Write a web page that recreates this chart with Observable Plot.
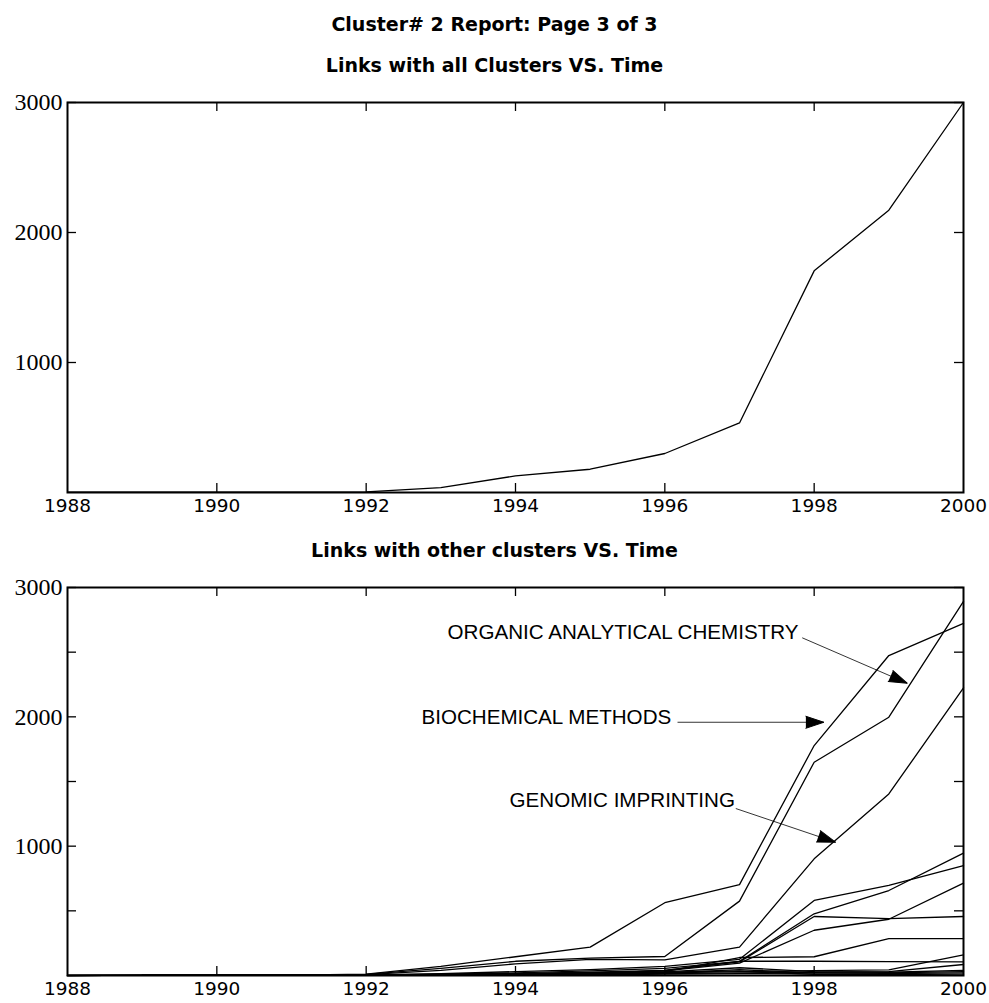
<!DOCTYPE html>
<html><head><meta charset="utf-8">
<script src="https://cdn.jsdelivr.net/npm/d3@7"></script>
<script src="https://cdn.jsdelivr.net/npm/@observablehq/plot@0.6"></script>
<style>
html,body{margin:0;padding:0;background:#fff;overflow:hidden}
#page{position:relative;width:989px;height:1003px;background:#fff}
#page svg{position:absolute;left:0}
.t{position:absolute;left:0;width:989px;text-align:center;font-family:"DejaVu Sans","Liberation Sans",Arial,sans-serif;font-weight:bold;color:#000;white-space:nowrap;line-height:1}
</style></head><body><div id="page"></div>
<script>
// ---------- data ----------
const years = [1988,1989,1990,1991,1992,1993,1994,1995,1996,1997,1998,1999,2000];
const xTickYears = [1988,1990,1992,1994,1996,1998,2000];
const yTicksTop = [1000,2000,3000];
const yTicksBottom = [500,1000,1500,2000,2500,3000];
const yTickLabels = [1000,2000,3000];

const pageTitle = "Cluster# 2 Report: Page 3 of 3";
const topTitle = "Links with all Clusters VS. Time";
const bottomTitle = "Links with other clusters VS. Time";

// Links with all clusters
const allClusters = [3,3,3,3,5,38,128,179,300,535,1705,2172,3000];

// Links with other clusters (one array per linked cluster)
const biochemicalMethods        = [0,3,3,3,10,70,145,219,563,703,1778,2474,2723];
const organicAnalyticalChem     = [0,3,3,3,8,55,110,135,147,575,1649,1997,2893];
const genomicImprinting         = [0,3,3,3,6,40,90,125,121,219,902,1404,2224];
const clusterD = [null,2,2,2,4,15,30,45,70,125,580,696,850];
const clusterE = [null,2,2,2,3,10,20,35,55,110,477,657,946];
const clusterF = [null,null,2,2,3,8,15,25,40,105,456,440,456];
const clusterG = [null,null,1,1,2,5,12,20,35,95,350,435,714];
const clusterH = [null,null,null,1,2,5,10,18,30,139,145,285,285];
const clusterI = [null,null,null,null,1,3,8,15,40,110,110,108,105];
const clusterJ = [null,null,null,null,1,2,5,10,20,30,38,44,160];
const clusterK = [null,null,null,null,null,2,3,5,15,20,25,30,85];
const clusterL = [null,null,null,null,null,1,2,8,20,45,20,20,30];
const clusterM = [null,null,null,null,null,null,2,4,10,15,12,15,20];
const clusterN = [null,null,null,null,2,6,12,18,28,60,30,25,40];
const clusterO = [null,null,null,null,null,3,6,10,25,35,8,6,10];

const otherSeries = [biochemicalMethods, organicAnalyticalChem, genomicImprinting,
  clusterD, clusterE, clusterF, clusterG, clusterH, clusterI, clusterJ, clusterK,
  clusterL, clusterM, clusterN, clusterO];

// annotations (data coordinates)
const annLabels = ["ORGANIC ANALYTICAL CHEMISTRY", "BIOCHEMICAL METHODS", "GENOMIC IMPRINTING"];
const annTextX  = [1993.09, 1992.74, 1993.92];
const annTextY  = [2652, 1995, 1353];
const annFromX  = [1997.84, 1996.17, 1996.95];
const annFromY  = [2611, 1958, 1291];
const annToX    = [1999.245, 1998.13, 1998.285];
const annToY    = [2260, 1958, 1031];
const annAngle  = [113.4, 90, 108.8];

// ---------- helpers ----------
function toRows(seriesList) {
  const rows = [];
  seriesList.forEach((vals, i) => vals.forEach((v, j) => {
    if (v != null) rows.push({series: i, year: years[j], value: v});
  }));
  return rows;
}

const W = 989, ML = 67, MR = 26, MT = 22, MB = 28;
const TICK = 9;
const LABEL_FONT = '"Liberation Sans", Arial, sans-serif';
const XLABEL_FONT = '"DejaVu Sans", "Liberation Sans", sans-serif';
const NUM_FONT = '"Liberation Serif", "Times New Roman", serif';

function chart({rows, height, yTicks, extra = []}) {
  const innerH = height - MT - MB;
  const innerW = W - ML - MR;
  const inner = xTickYears.filter(d => d !== 1988 && d !== 2000);
  return Plot.plot({
    width: W, height,
    marginLeft: ML, marginRight: MR, marginTop: MT, marginBottom: MB,
    x: {domain: [1988, 2000]},
    y: {domain: [0, 3000]},
    style: {background: "white", overflow: "visible"},
    marks: [
      // inward ticks
      Plot.tickX(inner, {x: d => d, insetTop: innerH - TICK, stroke: "black", strokeWidth: 1.3}),
      Plot.tickX(inner, {x: d => d, insetBottom: innerH - TICK, stroke: "black", strokeWidth: 1.3}),
      Plot.tickY(yTicks, {y: d => d, insetRight: innerW - TICK, stroke: "black", strokeWidth: 1.3}),
      Plot.tickY(yTicks, {y: d => d, insetLeft: innerW - TICK, stroke: "black", strokeWidth: 1.3}),
      // labels
      Plot.axisX(xTickYears, {anchor: "bottom", tickSize: 0, tickPadding: 6, tickFormat: d => String(d),
        fontSize: 18.5, fontFamily: XLABEL_FONT, label: null}),
      Plot.axisY(yTickLabels, {anchor: "left", tickSize: 0, tickPadding: 5, tickFormat: d => String(d),
        fontSize: 24, fontFamily: NUM_FONT, label: null}),
      Plot.line(rows, {x: "year", y: "value", z: "series", stroke: "black", strokeWidth: 1.3}),
      ...extra,
      Plot.frame({stroke: "black", strokeWidth: 2})
    ]
  });
}

const page = document.getElementById("page");

const top1 = chart({rows: toRows([allClusters]), height: 440, yTicks: yTicksTop});
top1.style.top = "80px";
page.appendChild(top1);

const annIdx = annLabels.map((_, i) => i);
const annotations = [
  Plot.text(annIdx, {x: i => annTextX[i], y: i => annTextY[i], text: i => annLabels[i],
    textAnchor: "start", fontSize: 20.6, fontFamily: LABEL_FONT, fill: "black"}),
  Plot.link(annIdx, {x1: i => annFromX[i], y1: i => annFromY[i], x2: i => annToX[i], y2: i => annToY[i],
    stroke: "black", strokeWidth: 0.8}),
  Plot.vector(annIdx, {x: i => annToX[i], y: i => annToY[i], rotate: i => annAngle[i],
    shape: "spike", anchor: "end", length: 18, r: 6, fill: "black", stroke: "black", strokeWidth: 1})
];

const bot = chart({rows: toRows(otherSeries), height: 438, yTicks: yTicksBottom, extra: annotations});
bot.style.top = "565px";
page.appendChild(bot);

function addTitle(text, top, size) {
  const d = document.createElement("div");
  d.className = "t";
  d.textContent = text;
  d.style.top = top + "px";
  d.style.fontSize = size + "px";
  page.appendChild(d);
}
addTitle(pageTitle, 15, 19);
addTitle(topTitle, 56, 19);
addTitle(bottomTitle, 541, 19);
</script>
</body></html>
